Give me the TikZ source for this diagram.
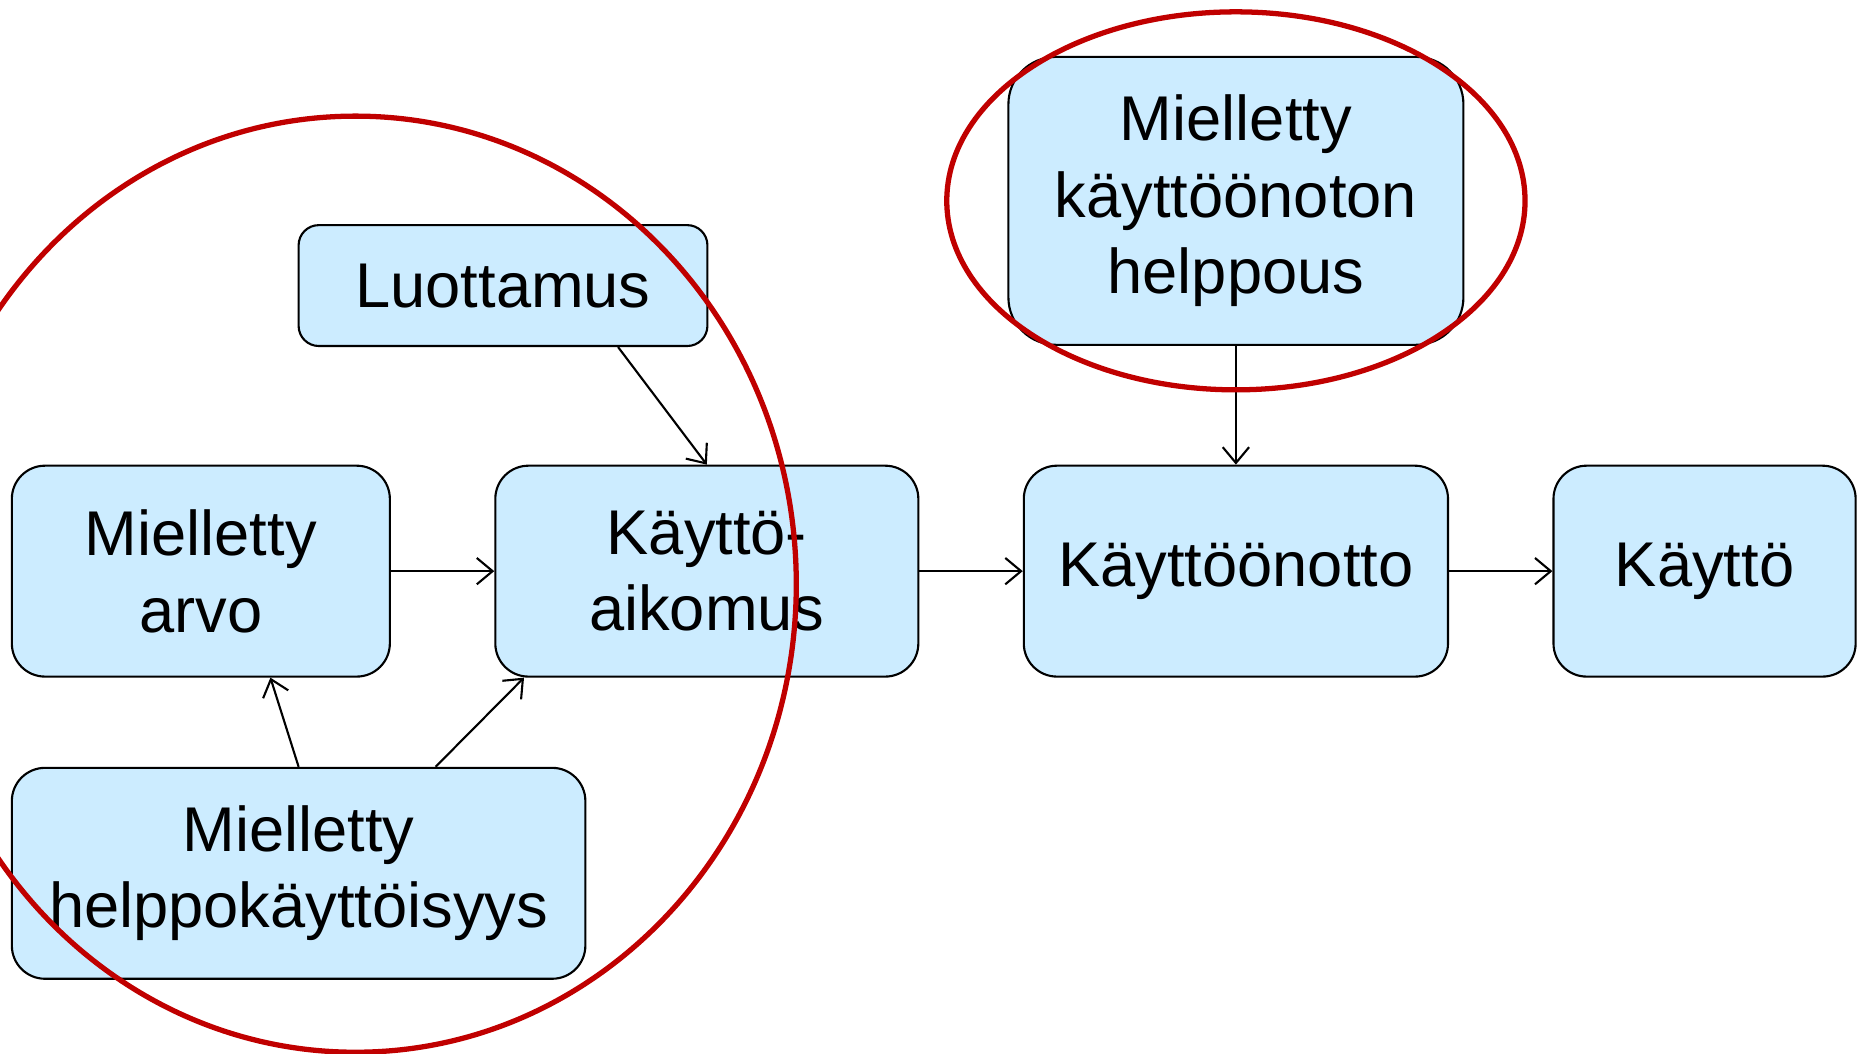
\documentclass[tikz,border=0pt]{standalone}
\usepackage{fontspec}
\setmainfont{Liberation Sans}
\usepackage{xcolor}
\usetikzlibrary{calc, arrows.meta}

\definecolor{boxblue}{RGB}{204,236,255}
\definecolor{ringred}{RGB}{192,0,0}
\newlength{\unitpx}
\setlength{\unitpx}{0.01185cm}

\begin{document}
\begin{tikzpicture}[x=0.01185cm, y=-0.01185cm,
    box/.style={draw=black, fill=boxblue, line width=0.6pt, rounded corners=28*\unitpx,
                align=center, inner sep=0pt, font=\fontsize{18}{21.8}\selectfont},
    link/.style={-{Straight Barb[length=4.5pt, width=7.5pt]}, line width=0.6pt},
    ring/.style={draw=ringred, line width=1.5pt}]
    \clip (0,0) rectangle (1568,889);
    \node[box, minimum width=345*\unitpx, minimum height=102*\unitpx, rounded corners=17*\unitpx] (luottamus) at (424.5,241) {Luottamus};
    \node[box, minimum width=384*\unitpx, minimum height=243*\unitpx, rounded corners=40*\unitpx] (helppous) at (1043,169.5) {Mielletty\\käyttöönoton\\helppous};
    \node[box, minimum width=319*\unitpx, minimum height=178*\unitpx] (arvo) at (169.5,482) {Mielletty\\arvo};
    \node[box, minimum width=357*\unitpx, minimum height=178*\unitpx] (aikomus) at (596.5,482) {Käyttö-\\aikomus};
    \node[box, minimum width=358*\unitpx, minimum height=178*\unitpx] (kayttoonotto) at (1043,482) {Käyttöönotto};
    \node[box, minimum width=255*\unitpx, minimum height=178*\unitpx] (kaytto) at (1438.5,482) {Käyttö};
    \node[box, minimum width=484*\unitpx, minimum height=178*\unitpx] (helppo) at (252,737) {Mielletty\\helppokäyttöisyys};

    \draw[link] ($(luottamus.south west)!0.78!(luottamus.south east)$) -- (aikomus.north);
    \draw[link] (arvo) -- (aikomus);
    \draw[link] (helppo.north) -- ($(arvo.south west)!0.683!(arvo.south east)$);
    \draw[link] ($(helppo.north west)!0.738!(helppo.north east)$) -- ($(aikomus.south west)!0.07!(aikomus.south east)$);
    \draw[link] (aikomus) -- (kayttoonotto);
    \draw[link] (helppous) -- (kayttoonotto);
    \draw[link] (kayttoonotto) -- (kaytto);

    % red rings on top of the boxes
    \draw[ring] (300,493) ellipse [x radius=372*\unitpx, y radius=395*\unitpx];
    \draw[ring] (1043,169.5) ellipse [x radius=244*\unitpx, y radius=159.5*\unitpx];
\end{tikzpicture}
\end{document}
